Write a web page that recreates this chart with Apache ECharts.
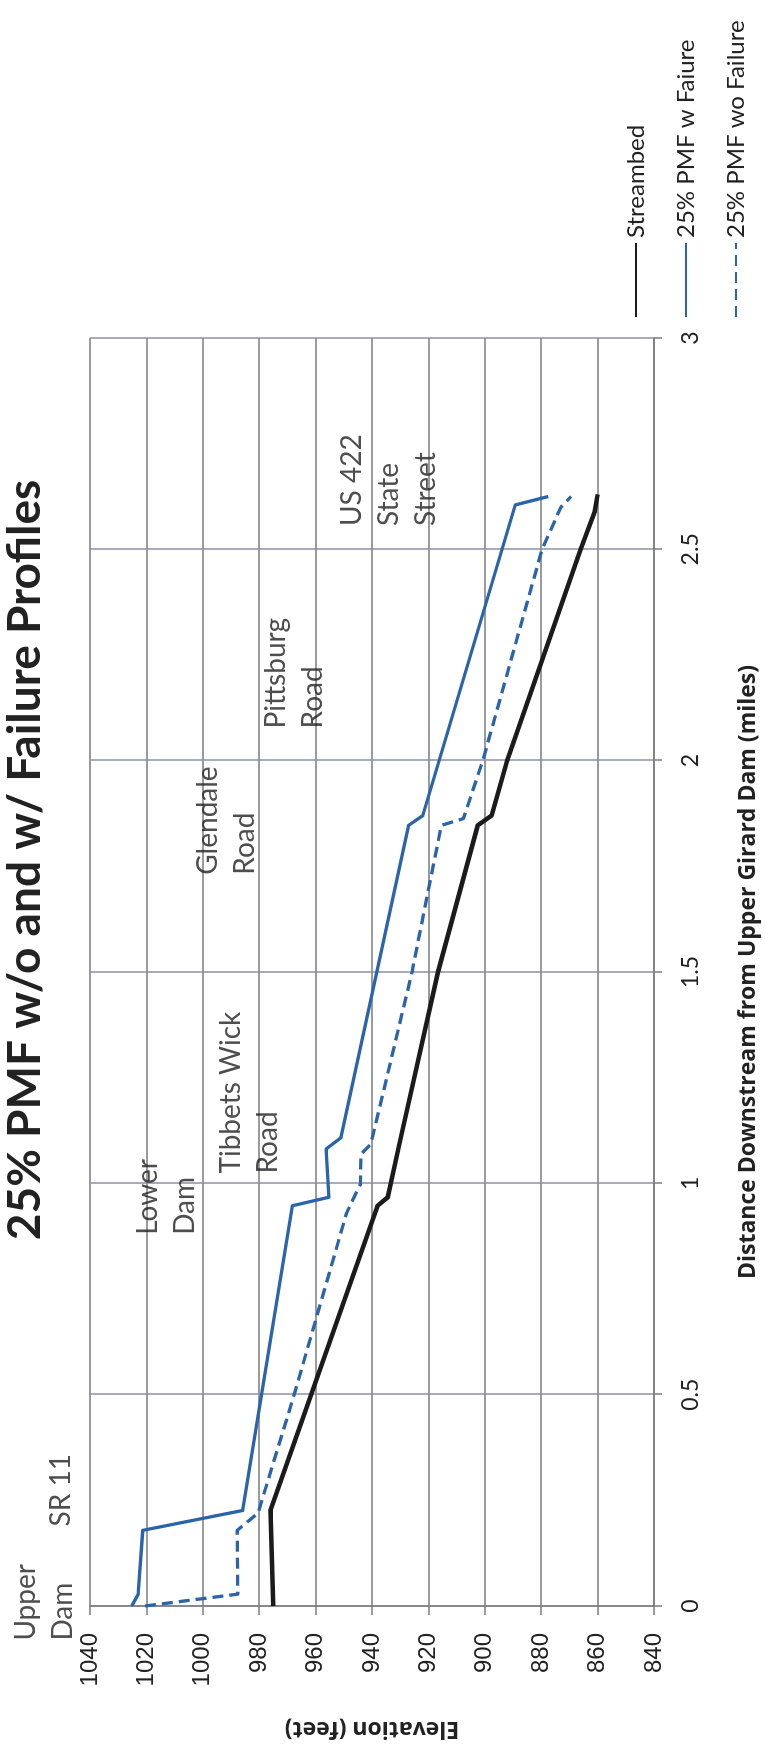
<!DOCTYPE html>
<html>
<head>
<meta charset="utf-8">
<script src="https://cdn.jsdelivr.net/npm/echarts@6.0.0/dist/echarts.min.js"></script>
<style>
  html, body { margin: 0; padding: 0; background: #ffffff; overflow: hidden; }
  /* The chart is laid out landscape and turned a quarter turn to sit on a portrait page */
  #chart {
    position: absolute; left: 0; top: 0;
    width: 1748px; height: 765px;
    transform-origin: 0 0;
    transform: translateY(1748px) rotate(-90deg);
  }
</style>
</head>
<body>
<div id="chart"></div>
<script>
// ---- Profile data (distance in miles, elevation in feet) ----
const streambedDist = [0, 0.226, 0.947, 0.967, 1.093, 1.5, 1.847, 1.870, 2.0, 2.5, 2.59, 2.63];
const streambedElev = [975, 976, 938, 934.4, 930.3, 916.6, 902.5, 897.6, 892.1, 866, 861, 860];

const withFailureDist = [0, 0.028, 0.179, 0.226, 0.947, 0.967, 1.081, 1.108, 1.847, 1.870, 2.605, 2.625];
const withFailureElev = [1025.2, 1022.9, 1021.3, 985.9, 968.2, 955.3, 956.3, 951, 927, 922, 889.2, 877.5];

const withoutFailureDist = [0, 0.028, 0.179, 0.22, 0.5, 0.93, 0.951, 0.998, 1.069, 1.093, 1.5, 1.674, 1.847, 1.863, 2.0, 2.5, 2.6, 2.625];
const withoutFailureElev = [1020.5, 987.6, 987.8, 980.4, 967.6, 949, 947.5, 944.1, 943.9, 940.4, 925.8, 920.6, 915.4, 907.6, 900.7, 879.7, 873, 869.4];

const seriesNames = ['Streambed', '25% PMF w Faiure', '25% PMF wo Failure'];

// ---- Landmark notes: left edge distance, first-line elevation ----
const noteText = ['Upper\nDam', 'SR 11', 'Lower\nDam', 'Tibbets Wick\nRoad', 'Glendale\nRoad', 'Pittsburg\nRoad', 'US 422\nState\nStreet'];
const noteDist = [-0.083, 0.187, 0.877, 1.022, 1.729, 2.075, 2.554];
const noteElev = [1062.7, 1050.4, 1019.6, 990.1, 998.2, 973.9, 947.1];

// ---- Axes ----
const distanceRange = [0, 3];
const distanceStep = 0.5;
const elevationRange = [840, 1040];
const elevationStep = 20;

const chartTitle = '25% PMF w/o and w/ Failure Profiles';
const distanceTitle = 'Distance Downstream from Upper Girard Dam (miles)';
const elevationTitle = 'Elevation (feet)';

const BLUE = '#2a64ab';
const BLACK = '#1b1b1b';
const TEXT = '#222222';
const NOTE_LINE_HEIGHT = 37;

function pairs(xs, ys) { return xs.map((x, i) => [x, ys[i]]); }

const noteData = noteText.map((t, i) => {
  const lines = t.split('\n').length;
  return {
    value: [noteDist[i], noteElev[i]],
    label: { formatter: t, offset: [0, (lines - 1) * NOTE_LINE_HEIGHT / 2] }
  };
});

const chart = echarts.init(document.getElementById('chart'), null, { renderer: 'canvas', width: 1748, height: 765 });

chart.setOption({
  backgroundColor: '#ffffff',
  animation: false,
  title: {
    text: chartTitle,
    left: 888,
    top: 2,
    padding: 0,
    textAlign: 'center',
    textStyle: { fontFamily: 'Lato, sans-serif', fontWeight: 'bold', fontSize: 46, color: TEXT }
  },
  grid: { left: 138, top: 90, width: 1272, height: 564, containLabel: false },
  legend: {
    orient: 'vertical',
    left: 1430,
    top: 621,
    itemWidth: 74,
    itemHeight: 14,
    itemGap: 20,
    padding: 0,
    data: seriesNames,
    itemStyle: { opacity: 0 },
    textStyle: { fontFamily: 'Lato, sans-serif', fontSize: 24, lineHeight: 30, color: TEXT }
  },
  xAxis: {
    type: 'value',
    min: distanceRange[0],
    max: distanceRange[1],
    interval: distanceStep,
    name: distanceTitle,
    nameLocation: 'middle',
    nameGap: 83,
    nameTextStyle: { fontFamily: '"Open Sans", sans-serif', fontWeight: 'bold', fontSize: 23, color: TEXT },
    axisLine: { show: true, lineStyle: { color: '#7d7d7d', width: 1.5 } },
    axisTick: { show: true, inside: false, length: 8, lineStyle: { color: '#7d7d7d', width: 1.5 } },
    axisLabel: { margin: 25, fontFamily: 'Lato, sans-serif', fontSize: 23, color: TEXT, formatter: v => String(v) },
    splitLine: { show: true, lineStyle: { color: '#8a8fa6', width: 1.5 } }
  },
  yAxis: {
    type: 'value',
    min: elevationRange[0],
    max: elevationRange[1],
    interval: elevationStep,
    name: elevationTitle,
    nameLocation: 'middle',
    nameRotate: 90,
    nameGap: 111,
    nameTextStyle: { fontFamily: '"Open Sans", sans-serif', fontWeight: 'bold', fontSize: 23, color: TEXT },
    axisLine: { show: true, lineStyle: { color: '#7d7d7d', width: 1.5 } },
    axisTick: { show: true, inside: false, length: 9, lineStyle: { color: '#7d7d7d', width: 1.5 } },
    axisLabel: { margin: 27, fontFamily: '"Liberation Sans", Arial, sans-serif', fontSize: 24, color: TEXT, formatter: v => String(v) },
    splitLine: { show: true, lineStyle: { color: '#7a7a7a', width: 1.5 } }
  },
  series: [
    {
      name: seriesNames[0],
      type: 'line',
      data: pairs(streambedDist, streambedElev),
      symbol: 'none',
      lineStyle: { color: BLACK, width: 4.5, join: 'round' },
      itemStyle: { color: BLACK },
      z: 3
    },
    {
      name: seriesNames[1],
      type: 'line',
      data: pairs(withFailureDist, withFailureElev),
      symbol: 'none',
      lineStyle: { color: BLUE, width: 3.3, join: 'round' },
      itemStyle: { color: BLUE },
      z: 4
    },
    {
      name: seriesNames[2],
      type: 'line',
      data: pairs(withoutFailureDist, withoutFailureElev),
      symbol: 'none',
      lineStyle: { color: BLUE, width: 3.3, type: [11, 6], join: 'round' },
      itemStyle: { color: BLUE },
      z: 4
    },
    {
      type: 'scatter',
      data: noteData,
      symbolSize: 1,
      clip: false,
      silent: true,
      itemStyle: { color: 'rgba(0,0,0,0)' },
      label: {
        show: true,
        position: 'right',
        distance: 0,
        align: 'left',
        fontFamily: 'Lato, sans-serif',
        fontSize: 28,
        lineHeight: NOTE_LINE_HEIGHT,
        color: TEXT
      },
      z: 5
    }
  ]
});
</script>
</body>
</html>
